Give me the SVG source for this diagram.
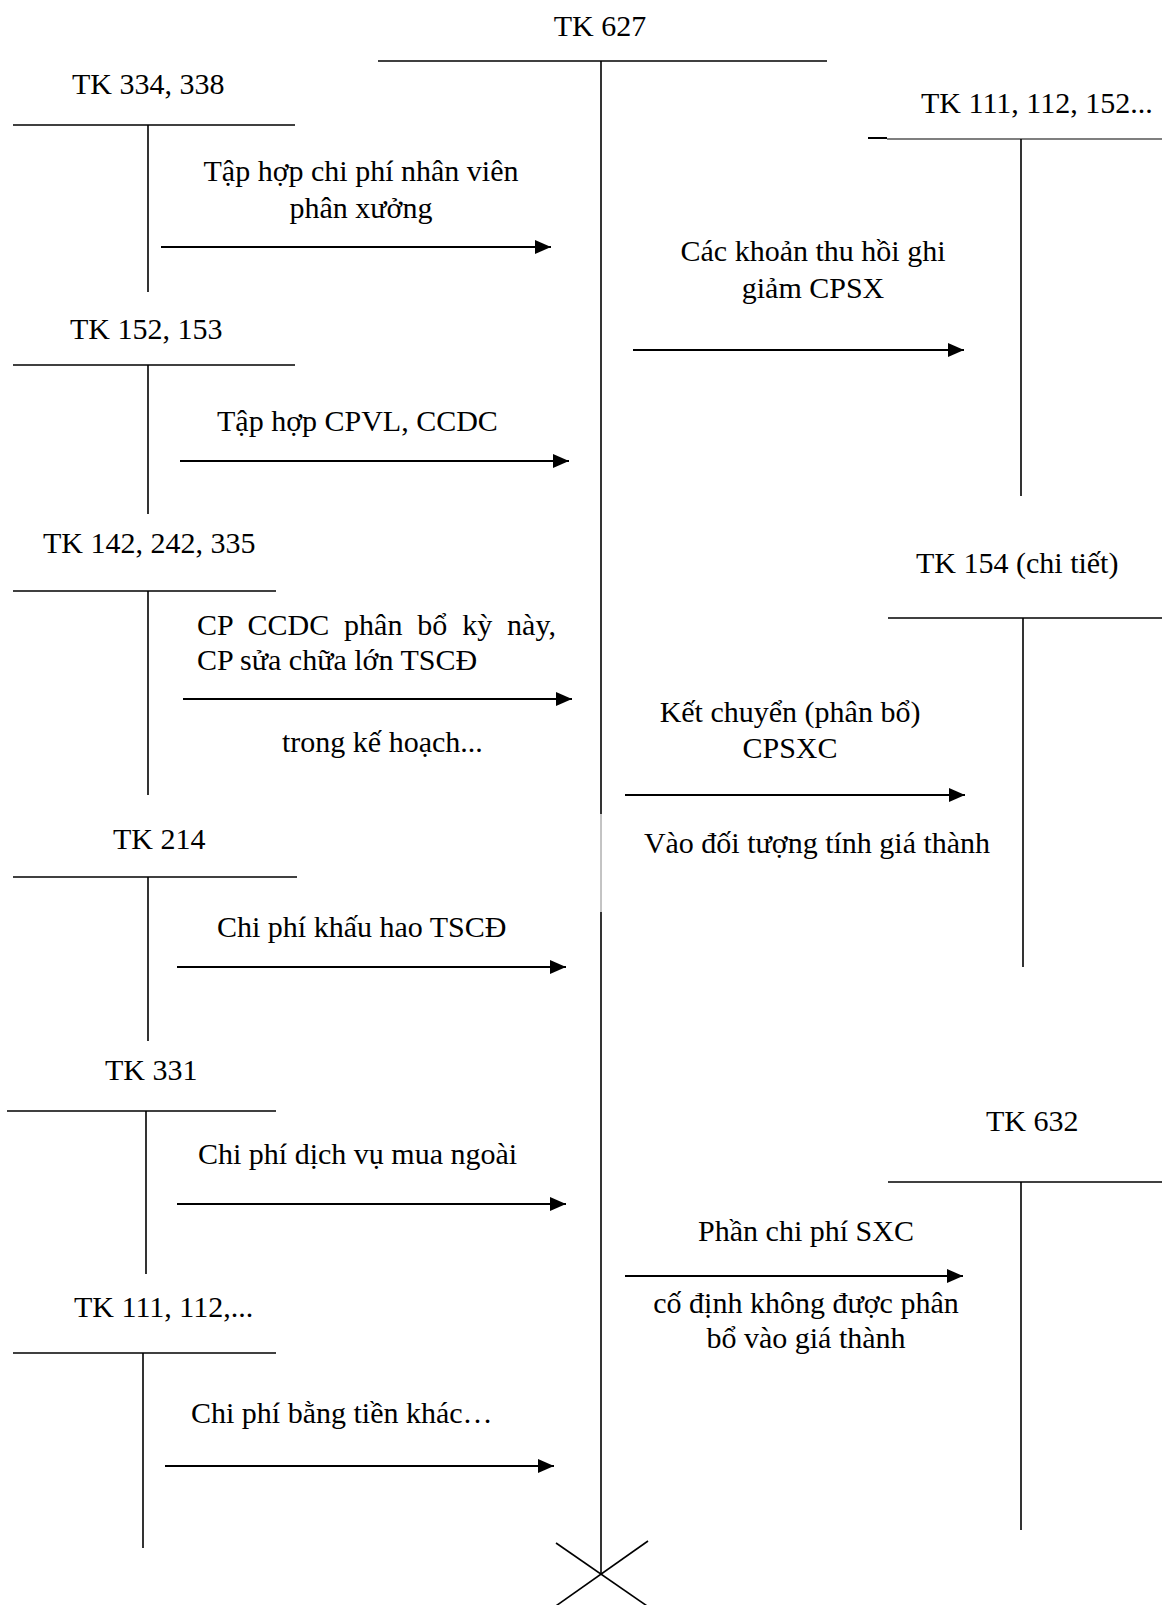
<svg xmlns="http://www.w3.org/2000/svg" width="1165" height="1605" viewBox="0 0 1165 1605">
<style>
text{font-family:"Liberation Serif","Times New Roman",serif;font-size:30px;fill:#000}
.c{text-anchor:middle}
.t{stroke:#000;stroke-width:1.6;fill:none}
.a{stroke:#000;stroke-width:2.2;fill:none;marker-end:url(#ah)}
</style>
<defs>
<marker id="ah" markerUnits="userSpaceOnUse" markerWidth="18" markerHeight="16" refX="16" refY="7" orient="auto">
<path d="M0,0 L16,7 L0,14 z" fill="#000"/>
</marker>
</defs>
<rect width="1165" height="1605" fill="#fff"/>

<g id="tk627">
<text class="c" x="600" y="36">TK 627</text>
<line class="t" x1="378" y1="61" x2="827" y2="61"/>
<line class="t" x1="601" y1="61" x2="601" y2="814"/>
<line x1="601" y1="814" x2="601" y2="912" stroke="#888" stroke-width="1"/>
<line class="t" x1="601" y1="912" x2="601" y2="1574"/>
<line class="t" x1="556" y1="1543" x2="650" y2="1608"/>
<line class="t" x1="648" y1="1541" x2="553" y2="1608"/>
</g>

<g id="tk334">
<text x="72" y="94">TK 334, 338</text>
<line class="t" x1="13" y1="125" x2="295" y2="125"/>
<line class="t" x1="148" y1="125" x2="148" y2="292"/>
</g>

<g id="tk152">
<text x="70" y="339">TK 152, 153</text>
<line class="t" x1="13" y1="365" x2="295" y2="365"/>
<line class="t" x1="148" y1="365" x2="148" y2="514"/>
</g>

<g id="tk142">
<text x="43" y="553">TK 142, 242, 335</text>
<line class="t" x1="13" y1="591" x2="276" y2="591"/>
<line class="t" x1="148" y1="591" x2="148" y2="795"/>
</g>

<g id="tk214">
<text x="113" y="849">TK 214</text>
<line class="t" x1="13" y1="877" x2="297" y2="877"/>
<line class="t" x1="148" y1="877" x2="148" y2="1041"/>
</g>

<g id="tk331">
<text x="105" y="1080">TK 331</text>
<line class="t" x1="7" y1="1111" x2="276" y2="1111"/>
<line class="t" x1="146" y1="1111" x2="146" y2="1274"/>
</g>

<g id="tk111l">
<text x="74" y="1317">TK 111, 112,...</text>
<line class="t" x1="13" y1="1353" x2="276" y2="1353"/>
<line class="t" x1="143" y1="1353" x2="143" y2="1548"/>
</g>

<g id="tk111r">
<text x="921" y="113">TK 111, 112, 152...</text>
<line x1="868" y1="138" x2="887" y2="138" stroke="#000" stroke-width="2"/>
<line x1="887" y1="139" x2="1162" y2="139" stroke="#000" stroke-width="1.2"/>
<line class="t" x1="1021" y1="139" x2="1021" y2="496"/>
</g>

<g id="tk154">
<text x="916" y="573">TK 154 (chi tiết)</text>
<line class="t" x1="888" y1="618" x2="1162" y2="618"/>
<line class="t" x1="1023" y1="618" x2="1023" y2="967"/>
</g>

<g id="tk632">
<text x="986" y="1131">TK 632</text>
<line class="t" x1="888" y1="1182" x2="1162" y2="1182"/>
<line class="t" x1="1021" y1="1182" x2="1021" y2="1530"/>
</g>

<g id="labels">
<text class="c" x="361" y="181">Tập hợp chi phí nhân viên</text>
<text class="c" x="361" y="218">phân xưởng</text>
<text x="217" y="431">Tập hợp CPVL, CCDC</text>
<text x="197" y="635" word-spacing="7.4">CP CCDC phân bổ kỳ này,</text>
<text x="197" y="670">CP sửa chữa lớn TSCĐ</text>
<text x="282" y="752">trong kế hoạch...</text>
<text x="217" y="937">Chi phí khấu hao TSCĐ</text>
<text x="198" y="1164">Chi phí dịch vụ mua ngoài</text>
<text x="191" y="1423">Chi phí bằng tiền khác…</text>
<text class="c" x="813" y="261">Các khoản thu hồi ghi</text>
<text class="c" x="813" y="298">giảm CPSX</text>
<text class="c" x="790" y="722">Kết chuyển (phân bổ)</text>
<text class="c" x="790" y="758">CPSXC</text>
<text class="c" x="817" y="853">Vào đối tượng tính giá thành</text>
<text class="c" x="806" y="1241">Phần chi phí SXC</text>
<text class="c" x="806" y="1313">cố định không được phân</text>
<text class="c" x="806" y="1348">bổ vào giá thành</text>
</g>

<g id="connectors">
<line class="a" x1="161" y1="247" x2="551" y2="247"/>
<line class="a" x1="180" y1="461" x2="569" y2="461"/>
<line class="a" x1="183" y1="699" x2="572" y2="699"/>
<line class="a" x1="177" y1="967" x2="566" y2="967"/>
<line class="a" x1="177" y1="1204" x2="566" y2="1204"/>
<line class="a" x1="165" y1="1466" x2="554" y2="1466"/>
<line class="a" x1="633" y1="350" x2="964" y2="350"/>
<line class="a" x1="625" y1="795" x2="965" y2="795"/>
<line class="a" x1="625" y1="1276" x2="963" y2="1276"/>
</g>
</svg>
